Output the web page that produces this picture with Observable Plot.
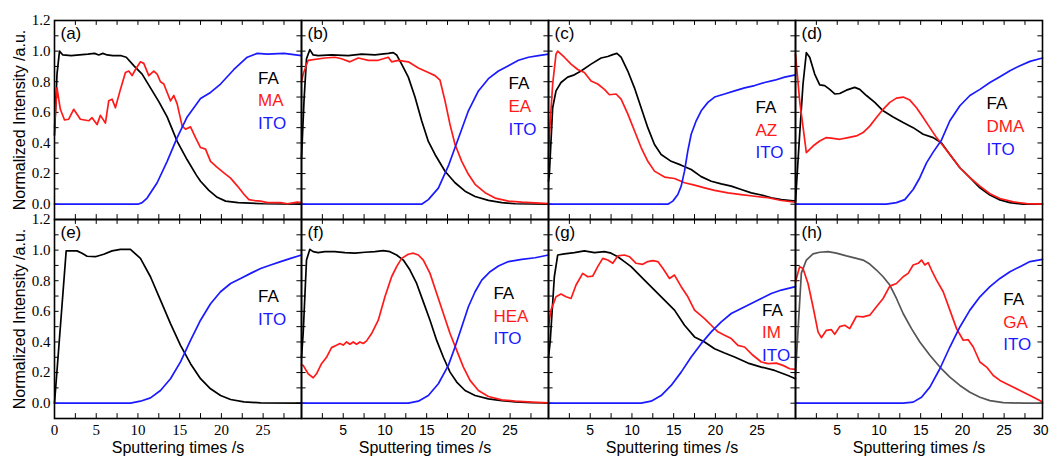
<!DOCTYPE html>
<html><head><meta charset="utf-8">
<script src="https://cdn.jsdelivr.net/npm/d3@7"></script>
<script src="https://cdn.jsdelivr.net/npm/@observablehq/plot@0.6"></script>
<style>body{margin:0;background:#fff} #chart{width:1050px;height:457px}</style>
</head><body><div id="chart"></div>
<script>
// ---------- data (time s, normalized intensity) ----------
const panelLetters = ["(a)","(b)","(c)","(d)","(e)","(f)","(g)","(h)"];
const secondSpecies = ["MA","EA","AZ","DMA",null,"HEA","IM","GA"];
const faColors = ["#000","#000","#000","#000","#000","#000","#000","#555"];

const a_FA = [[0,0.45],[0.3,0.85],[0.6,1.0],[1,0.975],[2,0.97],[3,0.975],[4,0.98],[4.8,0.985],[5.3,0.975],[5.8,0.985],[6.3,0.975],[7,0.97],[8,0.97],[8.6,0.96],[9.5,0.905],[10.5,0.85],[11.5,0.76],[12.5,0.67],[13.5,0.57],[14.7,0.41],[15.9,0.29],[17,0.19],[17.5,0.15],[18.5,0.09],[19.5,0.045],[20.5,0.02],[22,0.01],[25,0.003],[29.6,0.0]];
const a_MA = [[0,0.5],[0.3,0.76],[0.7,0.62],[1.2,0.55],[1.7,0.555],[2.3,0.62],[3.1,0.555],[4.1,0.545],[4.5,0.565],[5.1,0.52],[5.5,0.58],[6.1,0.53],[6.5,0.675],[6.9,0.686],[7.3,0.63],[7.9,0.75],[8.5,0.86],[8.9,0.87],[9.3,0.84],[9.7,0.88],[10.3,0.93],[10.7,0.92],[11.3,0.84],[11.9,0.87],[12.3,0.85],[12.7,0.8],[13.1,0.785],[13.5,0.73],[13.9,0.675],[14.3,0.71],[14.7,0.655],[15.3,0.51],[15.7,0.49],[16.3,0.505],[16.9,0.435],[17.5,0.37],[18.1,0.36],[18.7,0.28],[19.5,0.24],[20.3,0.205],[21.1,0.17],[21.9,0.12],[22.7,0.065],[23.3,0.03],[23.9,0.024],[24.7,0.02],[25.5,0.01],[27.1,0.01],[27.9,0.003],[29.1,0.013],[29.6,0.01]];
const a_ITO = [[0,0],[10,0],[10.5,0.01],[11.1,0.04],[12.3,0.14],[13.5,0.28],[14.7,0.435],[15.9,0.57],[17.5,0.69],[18.7,0.73],[19.9,0.785],[21.5,0.88],[23.1,0.96],[24.3,0.985],[25.5,0.98],[27.5,0.985],[29.6,0.97]];

const b_FA = [[0,0.3],[0.3,0.675],[0.6,0.95],[1.0,1.01],[1.4,0.975],[2,0.97],[3.6,0.975],[5.6,0.97],[7.2,0.98],[8.8,0.975],[10.4,0.985],[11,0.99],[11.4,0.975],[12,0.915],[12.8,0.83],[13.6,0.7],[14.4,0.545],[15.2,0.41],[16,0.325],[17.2,0.215],[18.4,0.14],[19.6,0.085],[20.8,0.05],[22.4,0.025],[24,0.01],[25.6,0.003],[29.6,0]];
const b_EA = [[0,0.8],[0.2,0.85],[0.8,0.94],[2.8,0.955],[4,0.96],[4.8,0.95],[5.8,0.93],[6.8,0.955],[8,0.94],[9.2,0.94],[10.4,0.96],[10.8,0.93],[11.6,0.94],[12.8,0.93],[14,0.89],[15.2,0.86],[16,0.84],[16.6,0.81],[17.2,0.675],[17.8,0.52],[18.4,0.39],[19.2,0.28],[20,0.195],[20.8,0.13],[22,0.075],[23.2,0.04],[24.8,0.02],[26.4,0.013],[28,0.008],[29.6,0.004]];
const b_ITO = [[0,0],[14.4,0],[15.2,0.03],[16.4,0.105],[17.6,0.25],[18.4,0.37],[19.2,0.49],[20,0.61],[21.2,0.74],[22.4,0.82],[23.6,0.87],[24.8,0.905],[26,0.94],[27.2,0.96],[28.4,0.97],[29.6,0.98]];

const c_FA = [[0,0.15],[0.1,0.195],[0.5,0.63],[0.9,0.74],[1.5,0.795],[2.3,0.83],[3.1,0.845],[3.9,0.87],[5.1,0.915],[6.3,0.955],[7.1,0.965],[7.7,0.977],[8.2,0.985],[8.7,0.96],[9.5,0.87],[10.3,0.76],[11.1,0.63],[11.9,0.5],[12.7,0.39],[13.5,0.325],[14.7,0.28],[15.9,0.255],[17.1,0.227],[18.3,0.18],[19.5,0.15],[20.7,0.133],[21.9,0.118],[23.1,0.096],[24.3,0.074],[25.5,0.06],[26.7,0.042],[27.9,0.03],[29.6,0.02]];
const c_AZ = [[0,0.3],[0.1,0.445],[0.5,0.785],[0.9,0.98],[1.1,1.0],[1.9,0.96],[2.7,0.915],[3.5,0.88],[4.3,0.86],[5.1,0.805],[5.9,0.785],[6.7,0.75],[7.3,0.715],[8.1,0.72],[8.7,0.686],[9.5,0.59],[10.3,0.48],[11.1,0.37],[11.9,0.28],[12.7,0.216],[13.9,0.177],[15.1,0.168],[16.3,0.14],[17.5,0.125],[18.7,0.107],[19.9,0.09],[21.5,0.074],[23.1,0.063],[24.7,0.052],[26.3,0.042],[27.9,0.024],[29.6,0.013]];
const c_ITO = [[0,0],[14.3,0],[14.9,0.02],[15.5,0.063],[15.9,0.118],[16.3,0.216],[16.7,0.35],[17.1,0.457],[17.7,0.545],[18.3,0.61],[19.1,0.665],[19.9,0.7],[21.1,0.72],[22.3,0.74],[23.5,0.76],[24.7,0.775],[25.9,0.795],[27.1,0.81],[28.3,0.83],[29.6,0.845]];

const d_FA = [[0,0.02],[0.5,0.457],[0.9,0.785],[1.3,0.99],[1.7,0.96],[2.3,0.85],[2.9,0.78],[3.5,0.775],[4.1,0.75],[4.7,0.72],[5.3,0.723],[6.1,0.745],[7.1,0.763],[7.7,0.75],[8.5,0.71],[9.5,0.665],[10.5,0.61],[11.7,0.57],[12.9,0.533],[14.1,0.5],[15.3,0.457],[16.5,0.435],[17.5,0.4],[18.5,0.325],[19.7,0.238],[20.9,0.173],[22.1,0.107],[23.3,0.06],[24.5,0.028],[25.7,0.01],[27.3,0],[29.6,0]];
const d_DMA = [[0,0.98],[0.5,0.675],[1.3,0.337],[2.1,0.38],[2.9,0.413],[3.7,0.435],[4.5,0.43],[5.3,0.424],[6.3,0.435],[7.3,0.446],[8.1,0.468],[8.9,0.51],[9.7,0.566],[10.5,0.62],[11.3,0.665],[12.1,0.693],[12.9,0.7],[13.7,0.68],[14.5,0.63],[15.3,0.566],[16.1,0.5],[16.9,0.435],[17.7,0.38],[18.5,0.325],[19.7,0.238],[20.9,0.173],[22.1,0.118],[23.3,0.068],[24.5,0.037],[26.1,0.015],[27.7,0.004],[29.6,0]];
const d_ITO = [[0,0],[10.9,0],[12.1,0.01],[13.1,0.03],[14.1,0.096],[14.9,0.173],[15.7,0.27],[16.5,0.34],[17.5,0.42],[18.5,0.545],[19.7,0.643],[20.9,0.71],[22.1,0.75],[23.3,0.795],[24.5,0.833],[25.7,0.872],[26.9,0.905],[28.1,0.933],[29.6,0.955]];

const e_FA = [[0,0],[1.4,0.995],[2.7,0.995],[3.3,0.98],[3.9,0.96],[4.9,0.957],[5.9,0.973],[6.9,0.995],[7.9,1.005],[9.1,1.005],[10.3,0.946],[11.5,0.826],[12.7,0.673],[13.9,0.52],[15.1,0.378],[16.3,0.258],[17.5,0.16],[18.7,0.094],[19.9,0.05],[21.1,0.024],[22.7,0.009],[24.7,0.002],[29.6,0]];
const e_ITO = [[0,0],[9.1,0],[10.3,0.013],[11.5,0.035],[12.7,0.083],[13.9,0.16],[15.1,0.27],[16.3,0.41],[17.5,0.542],[18.7,0.65],[19.9,0.728],[21.1,0.782],[22.3,0.815],[23.5,0.848],[24.7,0.88],[25.9,0.903],[27.1,0.925],[28.3,0.946],[29.6,0.968]];

const f_FA = [[0,0.3],[0.2,0.455],[0.6,0.935],[1.0,1.005],[1.4,0.99],[2,0.984],[2.8,0.99],[4,0.99],[5.2,0.984],[6.4,0.98],[7.6,0.986],[8.8,0.99],[9.8,0.997],[10.6,0.99],[11.4,0.968],[12.2,0.935],[13,0.87],[13.8,0.782],[14.6,0.662],[15.4,0.542],[16.2,0.41],[17,0.3],[17.8,0.203],[18.6,0.138],[19.6,0.083],[20.8,0.05],[22.4,0.028],[24,0.017],[25.6,0.009],[27.6,0.004],[29.6,0.002]];
const f_HEA = [[0,0.25],[0.2,0.247],[0.8,0.192],[1.4,0.166],[1.8,0.192],[2.4,0.258],[3,0.3],[3.6,0.363],[4.2,0.378],[4.6,0.39],[5,0.38],[5.4,0.4],[5.8,0.385],[6.2,0.4],[6.6,0.385],[7,0.4],[7.4,0.39],[7.8,0.407],[8.4,0.455],[9.2,0.542],[10,0.695],[10.8,0.826],[11.4,0.892],[12,0.946],[12.8,0.973],[13.4,0.98],[14,0.968],[14.6,0.935],[15.4,0.848],[16.2,0.717],[17,0.586],[17.8,0.455],[18.6,0.345],[19.4,0.236],[20.2,0.149],[21.2,0.083],[22.4,0.044],[24,0.022],[25.6,0.013],[27.6,0.007],[29.6,0.002]];
const f_ITO = [[0,0],[12.8,0],[14,0.013],[15.2,0.05],[16.4,0.127],[17.6,0.247],[18.4,0.367],[19.2,0.498],[20,0.63],[20.8,0.728],[21.6,0.804],[22.6,0.859],[23.6,0.896],[24.8,0.925],[26.4,0.94],[28,0.95],[29.6,0.968]];

const g_FA = [[0,0.3],[0.2,0.4],[0.7,0.826],[1.1,0.968],[1.9,0.975],[3.1,0.984],[4.3,0.995],[5.5,0.984],[6.7,0.99],[7.5,0.98],[8.3,0.957],[9.1,0.925],[9.9,0.892],[10.7,0.848],[11.5,0.804],[12.7,0.739],[13.9,0.673],[15.1,0.608],[16.3,0.509],[17.5,0.433],[18.7,0.4],[19.9,0.356],[21.1,0.328],[22.3,0.302],[23.9,0.262],[25.5,0.236],[27.1,0.214],[28.7,0.181],[29.6,0.16]];
const g_IM = [[0,0.5],[0.1,0.542],[0.3,0.608],[0.9,0.695],[1.5,0.713],[2.1,0.695],[2.7,0.684],[3.3,0.772],[4.1,0.848],[4.7,0.826],[5.3,0.83],[5.9,0.892],[6.5,0.946],[7.1,0.935],[7.7,0.914],[8.3,0.962],[9.1,0.968],[9.7,0.957],[10.5,0.914],[11.3,0.907],[11.9,0.925],[12.5,0.931],[13.1,0.925],[13.7,0.881],[14.5,0.815],[15.1,0.837],[15.9,0.761],[16.7,0.695],[17.5,0.608],[18.7,0.553],[19.5,0.509],[20.3,0.466],[21.1,0.444],[21.9,0.422],[22.7,0.378],[23.5,0.367],[24.5,0.313],[25.5,0.269],[26.3,0.258],[27.3,0.262],[28.1,0.247],[28.9,0.225],[29.6,0.221]];
const g_ITO = [[0,0],[11.1,0],[12.3,0.013],[13.5,0.05],[14.7,0.116],[15.9,0.203],[17.1,0.302],[18.3,0.389],[19.5,0.466],[20.7,0.531],[21.9,0.586],[23.1,0.619],[24.3,0.651],[25.5,0.684],[26.7,0.717],[27.9,0.739],[29.6,0.761]];

const h_FA = [[0,0.19],[0.7,0.85],[1.3,0.935],[2.1,0.975],[2.9,0.986],[3.9,0.99],[4.9,0.98],[6.1,0.962],[7.3,0.946],[8.1,0.935],[8.9,0.909],[9.7,0.87],[10.5,0.826],[11.3,0.772],[12.1,0.684],[12.9,0.586],[13.9,0.487],[14.9,0.4],[16.1,0.313],[17.3,0.236],[18.5,0.17],[19.7,0.116],[20.9,0.072],[22.1,0.039],[23.3,0.017],[24.9,0.004],[27.3,0],[29.6,0]];
const h_GA = [[0,0.793],[0.5,0.892],[0.9,0.88],[1.5,0.782],[2.1,0.63],[2.7,0.466],[3.1,0.428],[3.7,0.476],[4.3,0.48],[4.7,0.45],[5.3,0.5],[5.9,0.509],[6.5,0.487],[7.3,0.568],[8.1,0.564],[8.9,0.575],[9.7,0.63],[10.5,0.684],[11.3,0.765],[12.1,0.782],[12.9,0.826],[13.5,0.848],[14.1,0.903],[14.7,0.914],[15.1,0.935],[15.5,0.903],[15.9,0.918],[16.3,0.87],[16.9,0.804],[17.7,0.728],[18.5,0.608],[19.3,0.487],[20.1,0.411],[20.7,0.415],[21.3,0.367],[22.1,0.269],[22.9,0.236],[23.7,0.181],[24.5,0.149],[25.7,0.116],[26.9,0.083],[28.1,0.05],[29.1,0.022],[29.6,0.007]];
const h_ITO = [[0,0],[12.9,0],[14.1,0.007],[15.1,0.039],[16.1,0.105],[17.3,0.225],[18.5,0.367],[19.7,0.498],[20.9,0.608],[22.1,0.695],[23.3,0.761],[24.5,0.815],[25.7,0.859],[26.9,0.892],[28.1,0.925],[29.6,0.94]];

// tick values / labels
const yTickValues = [0,0.2,0.4,0.6,0.8,1.0,1.2];
const xTicksE = [0,5,10,15,20,25];
const xTicksFG = [5,10,15,20,25];
const xTicksH = [5,10,15,20,25,30];
const minorX = [0,2.5,5,7.5,10,12.5,15,17.5,20,22.5,25,27.5];
const minorY = [0,0.1,0.2,0.3,0.4,0.5,0.6,0.7,0.8,0.9,1.0,1.1];
const xTitle = "Sputtering times /s";
const yTitle = "Normalized Intensity /a.u.";

// legend placement (data units per panel)
const legendX = [24.4,24.8,24.8,22.9,24.4,23,25.6,24.9];
const legendTop = [0.824,0.786,0.631,0.656,0.695,0.717,0.608,0.678];

// ---------- build tables ----------
const panelSeries = [[a_FA,a_MA,a_ITO],[b_FA,b_EA,b_ITO],[c_FA,c_AZ,c_ITO],[d_FA,d_DMA,d_ITO],
                     [e_FA,null,e_ITO],[f_FA,f_HEA,f_ITO],[g_FA,g_IM,g_ITO],[h_FA,h_GA,h_ITO]];
const RED = "#ff1a1a", BLUE = "#1a1aff";
const lines = [];
const legend = [];
const letters = [];
panelSeries.forEach((s, i) => {
  const col = i % 4, row = Math.floor(i / 4);
  const names = ["FA", secondSpecies[i], "ITO"];
  const colors = [faColors[i], RED, BLUE];
  s.forEach((arr, k) => {
    if (!arr) return;
    arr.forEach(([t, v]) => lines.push({col, row, t, v, key: i + "-" + k, color: colors[k]}));
  });
  let n = 0;
  names.forEach((nm, k) => {
    if (!nm) return;
    legend.push({col, row, x: legendX[i], y: legendTop[i] - n * 0.148, text: nm, color: k === 0 ? "#000" : colors[k]});
    n++;
  });
  letters.push({col, row, text: panelLetters[i]});
});
const yLabels = [];
[0,1].forEach(row => yTickValues.forEach(v => yLabels.push({col: 0, row, v, label: v.toFixed(1)})));
const xLabelsSerif = xTicksE.map(t => ({col: 0, row: 1, t, label: String(t)}));
const xLabelsSans = [];
[1,2].forEach(col => xTicksFG.forEach(t => xLabelsSans.push({col, row: 1, t, label: String(t)})));
xTicksH.forEach(t => xLabelsSans.push({col: 3, row: 1, t, label: String(t)}));
const xLabelsInside = xLabelsSans.filter(d => d.t < 29.6);
const xLabelsEdge = xLabelsSans.filter(d => d.t >= 29.6);
const xTitles = [0,1,2,3].map(col => ({col, row: 1, text: xTitle}));
const yTitles = [0,1].map(row => ({col: 0, row, text: yTitle}));

const SANS = "Liberation Sans, Arial, sans-serif";
const SERIF = "Liberation Serif, Times New Roman, serif";

const chart = Plot.plot({
  width: 1050, height: 457,
  marginLeft: 54, marginRight: 8, marginTop: 20, marginBottom: 39,
  x: {domain: [0, 29.6], axis: null},
  y: {domain: [-0.1, 1.2], axis: null},
  fx: {domain: [0,1,2,3], axis: null, padding: 0, paddingInner: 0, paddingOuter: 0},
  fy: {domain: [0,1], axis: null, padding: 0, paddingInner: 0, paddingOuter: 0},
  color: {type: "identity"},
  style: {background: "#fff", overflow: "visible"},
  marks: [
    Plot.ruleX(minorX, {x: d => d, y1: -0.1, y2: -0.068, stroke: "#000", strokeWidth: 1}),
    Plot.ruleX(minorX, {x: d => d, y1: 1.168, y2: 1.2, stroke: "#000", strokeWidth: 1}),
    Plot.ruleY(minorY, {y: d => d, x1: 0, x2: 0.55, stroke: "#000", strokeWidth: 1}),
    Plot.ruleY(minorY, {y: d => d, x1: 29.05, x2: 29.6, stroke: "#000", strokeWidth: 1}),
    Plot.line(lines, {x: "t", y: "v", z: "key", stroke: "color", fx: "col", fy: "row", strokeWidth: 1.7}),
    Plot.frame({stroke: "#000", strokeWidth: 1.6}),
    Plot.text(letters, {fx: "col", fy: "row", text: "text", frameAnchor: "top-left", dx: 6, dy: 6, textAnchor: "start", lineAnchor: "top", fontSize: 17, fontFamily: SANS, fill: "#000"}),
    Plot.text(legend, {fx: "col", fy: "row", x: "x", y: "y", text: "text", fill: "color", textAnchor: "start", lineAnchor: "middle", fontSize: 17, fontFamily: SANS}),
    Plot.text(yLabels, {fx: "col", fy: "row", x: 0, y: "v", text: "label", textAnchor: "end", dx: -4, fontSize: 15, fontFamily: SERIF, fill: "#000"}),
    Plot.text(xLabelsSerif, {fx: "col", fy: "row", x: "t", y: -0.1, text: "label", dy: 12, lineAnchor: "middle", fontSize: 15, fontFamily: SERIF, fill: "#000"}),
    Plot.text(xLabelsInside, {fx: "col", fy: "row", x: "t", y: -0.1, text: "label", dy: 12, lineAnchor: "middle", fontSize: 14, fontFamily: SANS, fill: "#000"}),
    Plot.text(xLabelsEdge, {fx: "col", fy: "row", x: "t", y: -0.1, text: "label", dy: 12, dx: -5, lineAnchor: "middle", fontSize: 14, fontFamily: SANS, fill: "#000"}),
    Plot.text(xTitles, {fx: "col", fy: "row", text: "text", frameAnchor: "bottom", dy: 29, textAnchor: "middle", lineAnchor: "middle", fontSize: 16, fontFamily: SANS, fill: "#000"}),
    Plot.text(yTitles, {fx: "col", fy: "row", text: "text", frameAnchor: "left", dx: -35, rotate: -90, textAnchor: "middle", lineAnchor: "middle", fontSize: 16, fontFamily: SANS, fill: "#000"})
  ]
});
document.getElementById("chart").appendChild(chart);
</script>
</body></html>
